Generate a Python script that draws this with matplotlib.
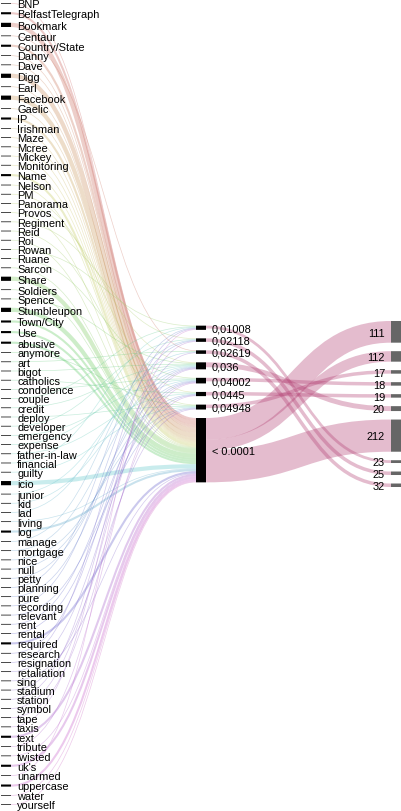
import colorsys
import matplotlib
matplotlib.use('Agg')
import matplotlib.pyplot as plt
from matplotlib.path import Path
from matplotlib.patches import PathPatch, Rectangle

## words -> p-value -> group sankey

words = ['BNP', 'BelfastTelegraph', 'Bookmark', 'Centaur', 'Country/State', 'Danny', 'Dave',
         'Digg', 'Earl', 'Facebook', 'Gaelic', 'IP', 'Irishman', 'Maze', 'Mcree', 'Mickey',
         'Monitoring', 'Name', 'Nelson', 'PM', 'Panorama', 'Provos', 'Regiment', 'Reid', 'Roi',
         'Rowan', 'Ruane', 'Sarcon', 'Share', 'Soldiers', 'Spence', 'Stumbleupon', 'Town/City',
         'Use', 'abusive', 'anymore', 'art', 'bigot', 'catholics', 'condolence', 'couple',
         'credit', 'deploy', 'developer', 'emergency', 'expense', 'father-in-law', 'financial',
         'guilty', 'icio', 'junior', 'kid', 'lad', 'living', 'log', 'manage', 'mortgage', 'nice',
         'null', 'petty', 'planning', 'pure', 'recording', 'relevant', 'rent', 'rental',
         'required', 'research', 'resignation', 'retaliation', 'sing', 'stadium', 'station',
         'symbol', 'tape', 'taxis', 'text', 'tribute', 'twisted', "uk's", 'unarmed',
         'uppercase', 'water', 'yourself']

word_count = [1, 3, 6, 1, 3, 1, 1, 6, 1, 6, 1, 3, 1, 1, 1, 1,
              1, 3, 1, 1, 1, 1, 1, 1, 1,
              1, 1, 1, 6, 1, 1, 6, 3,
              3, 3, 1, 1, 1, 1, 1, 1,
              1, 1, 1, 1, 1, 1, 1,
              1, 6, 1, 1, 1, 1, 3, 1, 1, 1,
              1, 1, 1, 1, 1, 1, 1, 1,
              3, 1, 1, 1, 1, 1, 1,
              1, 1, 1, 3, 1, 1, 3, 1,
              3, 1, 1]

word_pvalue = ['< 0.0001', '< 0.0001', '< 0.0001', '0,02619', '< 0.0001', '< 0.0001', '< 0.0001',
               '< 0.0001', '< 0.0001', '< 0.0001', '< 0.0001', '< 0.0001', '< 0.0001', '< 0.0001',
               '< 0.0001', '< 0.0001', '< 0.0001', '< 0.0001', '< 0.0001', '0,0445', '0,036',
               '< 0.0001', '0,02118', '0,04948', '< 0.0001', '0,01008', '0,04002', '< 0.0001',
               '< 0.0001', '< 0.0001', '0,036', '< 0.0001', '< 0.0001', '< 0.0001', '< 0.0001',
               '0,04948', '0,02619', '0,036', '0,0445', '0,04002', '0,01008', '0,036', '0,04948',
               '0,02118', '0,04002', '0,036', '0,0445', '0,01008', '0,04948', '< 0.0001',
               '0,036', '0,04002', '0,02619', '< 0.0001', '< 0.0001', '0,02118', '0,036',
               '0,04948', '0,0445', '0,04002', '0,01008', '0,036', '0,02118', '0,04948',
               '0,04002', '0,0445', '< 0.0001', '0,036', '0,01008', '0,04002', '< 0.0001',
               '0,04948', '0,02619', '0,036', '0,0445', '0,02118', '< 0.0001', '0,04002',
               '< 0.0001', '< 0.0001', '0,01008', '< 0.0001', '< 0.0001', '< 0.0001']

pvalues = ['0,01008', '0,02118', '0,02619', '0,036', '0,04002', '0,0445', '0,04948', '< 0.0001']
groups = ['111', '112', '17', '18', '19', '20', '212', '23', '25', '32']

flow_pvalue = ['< 0.0001', '< 0.0001', '< 0.0001', '0,01008', '0,02118', '0,02619', '0,036',
               '0,04002', '0,0445', '0,04948']
flow_group = ['111', '112', '212', '23', '25', '32', '20', '18', '19', '17']
flow_count = [31, 15, 46, 4, 5, 5, 7, 5, 5, 5]

# layout in pixel units
W, H = 401, 812
top, bottom = 4, 806
pad = 8.5
nw = 10
col_x = [1, 196, 391]

links = []  # (src_col, src_idx, tgt_col, tgt_idx, value, color)
for i, w in enumerate(words):
    h = 0.85 * i / (len(words) - 1)
    c = colorsys.hsv_to_rgb(h, 0.5, 0.8)
    links.append((0, i, 1, pvalues.index(word_pvalue[i]), word_count[i], c + (0.35,)))
for p, g, v in zip(flow_pvalue, flow_group, flow_count):
    links.append((1, pvalues.index(p), 2, groups.index(g), v, (0.7, 0.25, 0.45, 0.35)))

n_cols = [len(words), len(pvalues), len(groups)]
val_in = [[0] * n for n in n_cols]
val_out = [[0] * n for n in n_cols]
for sc, si, tc, ti, v, c in links:
    val_out[sc][si] += v
    val_in[tc][ti] += v
vals = [[max(a, b) for a, b in zip(val_in[k], val_out[k])] for k in range(3)]

ky = (bottom - top - (len(words) - 1) * pad) / sum(vals[0])

node_y = []
for k in range(3):
    total = sum(vals[k]) * ky + (n_cols[k] - 1) * pad
    y = top if k == 0 else (top + bottom) / 2 - total / 2
    ys = []
    for v in vals[k]:
        ys.append((y, y + v * ky))
        y += v * ky + pad
    node_y.append(ys)

# link offsets at source and target
src_off = {}
tgt_off = {}
for k in range(3):
    for i in range(n_cols[k]):
        outs = [j for j, l in enumerate(links) if l[0] == k and l[1] == i]
        outs.sort(key=lambda j: node_y[links[j][2]][links[j][3]][0])
        y = node_y[k][i][0]
        for j in outs:
            src_off[j] = y
            y += links[j][4] * ky
        ins = [j for j, l in enumerate(links) if l[2] == k and l[3] == i]
        ins.sort(key=lambda j: node_y[links[j][0]][links[j][1]][0])
        y = node_y[k][i][0]
        for j in ins:
            tgt_off[j] = y
            y += links[j][4] * ky

fig = plt.figure(figsize=(W / 100, H / 100), dpi=100)
ax = fig.add_axes([0, 0, 1, 1])
ax.set_xlim(0, W)
ax.set_ylim(H, 0)
ax.axis('off')

for j, (sc, si, tc, ti, v, c) in enumerate(links):
    w = v * ky
    x0 = col_x[sc] + nw
    x1 = col_x[tc]
    y0 = src_off[j] + w / 2
    y1 = tgt_off[j] + w / 2
    xm = (x0 + x1) / 2
    path = Path([(x0, y0), (xm, y0), (xm, y1), (x1, y1)],
                [Path.MOVETO, Path.CURVE4, Path.CURVE4, Path.CURVE4])
    ax.add_patch(PathPatch(path, facecolor='none', edgecolor=c, lw=w * 0.72,
                           capstyle='butt', zorder=1))

fs = 7.9
dy = 0.35 * fs / 0.72
names = [words, pvalues, groups]
for k in range(3):
    for i, name in enumerate(names[k]):
        y0, y1 = node_y[k][i]
        r = Rectangle((col_x[k], y0), nw, y1 - y0, facecolor='#666666' if k == 2 else 'black',
                      edgecolor='none', zorder=2)
        r.set_snap(False)
        ax.add_patch(r)
        yc = (y0 + y1) / 2 + dy
        if k == 2:
            ax.text(col_x[k] - 6, yc, name, ha='right', va='baseline', fontsize=fs,
                    family='Liberation Sans', zorder=3)
        else:
            ax.text(col_x[k] + nw + 6, yc, name, ha='left', va='baseline', fontsize=fs,
                    family='Liberation Sans', zorder=3)

fig.savefig('out.png', dpi=100)
